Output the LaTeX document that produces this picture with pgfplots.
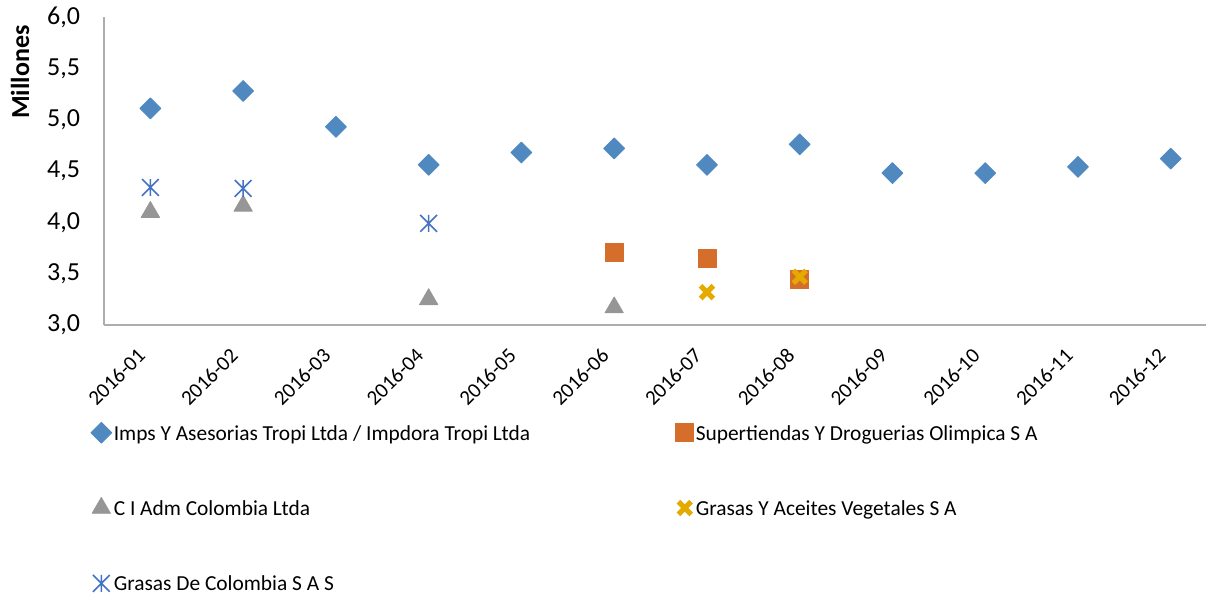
\documentclass[border=0pt]{standalone}
\usepackage{pgfplots}
\pgfplotsset{compat=1.18}
\usepackage{fontspec}
\setmainfont{Carlito}

\definecolor{impblue}{RGB}{80,137,192}
\definecolor{olorange}{RGB}{212,110,42}
\definecolor{cigray}{RGB}{150,150,150}
\definecolor{grasyellow}{RGB}{228,170,0}
\definecolor{gcblue}{RGB}{68,114,196}
\definecolor{axgray}{RGB}{173,173,173}

% Excel-style star: vertical bar plus an X
\pgfdeclareplotmark{xlstar}{%
  \pgfpathmoveto{\pgfqpoint{0pt}{\pgfplotmarksize}}%
  \pgfpathlineto{\pgfqpoint{0pt}{-\pgfplotmarksize}}%
  \pgfpathmoveto{\pgfqpoint{-\pgfplotmarksize}{-\pgfplotmarksize}}%
  \pgfpathlineto{\pgfqpoint{\pgfplotmarksize}{\pgfplotmarksize}}%
  \pgfpathmoveto{\pgfqpoint{-\pgfplotmarksize}{\pgfplotmarksize}}%
  \pgfpathlineto{\pgfqpoint{\pgfplotmarksize}{-\pgfplotmarksize}}%
  \pgfusepathqstroke}

\begin{document}
\begin{tikzpicture}
\begin{axis}[
    name=ax,
    scale only axis,
    width=551pt, height=154pt,
    xmin=-0.5, xmax=11.38,
    ymin=3, ymax=6,
    ytick={3,3.5,4,4.5,5,5.5,6},
    xtick={0,1,2,3,4,5,6,7,8,9,10,11},
    xticklabels={2016-01,2016-02,2016-03,2016-04,2016-05,2016-06,
                 2016-07,2016-08,2016-09,2016-10,2016-11,2016-12},
    axis x line*=bottom, axis y line*=left,
    axis line style={axgray, line width=0.9pt, -},
    major tick length=0pt,
    tick style={draw=none},
    /pgf/number format/assume math mode=true,
    yticklabel style={/pgf/number format/.cd, fixed, fixed zerofill, precision=1, use comma,
                      /tikz/.cd, font=\fontsize{13}{15}\selectfont, xshift=-8.5pt},
    xticklabel style={xshift=-7pt, yshift=-6pt, rotate=45, anchor=north east,
                      font=\fontsize{10.5}{12.6}\selectfont},
    ylabel={Millones},
    ylabel style={at={(axis description cs:-0.0762,0.821)}, anchor=center,
                  font=\bfseries\fontsize{13}{15}\selectfont},
    legend columns=2,
    legend cell align=left,
    legend style={draw=none, fill=none, at={(axis description cs:-0.0123,-0.308)},
                  anchor=north west, font=\fontsize{10.7}{12.8}\selectfont,
                  row sep=25.2pt, column sep=0pt, inner sep=0pt,
                  nodes={inner xsep=1pt, inner ysep=1pt}},
    legend image code/.code={\draw[#1] plot coordinates {(0pt,0pt)};},
]
\addplot[only marks, mark=square*, mark size=3.7pt,
         mark options={rotate=45, fill=impblue, draw=impblue, line join=round, line width=0.4pt}]
  coordinates {(0,5.11) (1,5.28) (2,4.93) (3,4.56) (4,4.68) (5,4.72)
               (6,4.56) (7,4.76) (8,4.48) (9,4.48) (10,4.54) (11,4.62)};
\addlegendentry{\makebox[280pt][l]{Imps Y Asesorias Tropi Ltda / Impdora Tropi Ltda\strut}}

\addplot[only marks, mark=square*, mark size=4.5pt,
         mark options={fill=olorange, draw=olorange, line join=round, line width=0.4pt}]
  coordinates {(5,3.71) (6,3.65) (7,3.44)};
\addlegendentry{Supertiendas Y Droguerias Olimpica S A\strut}

\addplot[only marks, mark=triangle*, mark size=5.3pt,
         mark options={fill=cigray, draw=cigray, line join=round, line width=0.4pt}]
  coordinates {(0,4.10) (1,4.16) (3,3.25) (5,3.17)};
\addlegendentry{\makebox[280pt][l]{C I Adm Colombia Ltda\strut}}

\addplot[only marks, mark=x, mark size=4.5pt,
         mark options={draw=grasyellow, line width=2.6pt}]
  coordinates {(6,3.32) (7,3.47)};
\addlegendentry{Grasas Y Aceites Vegetales S A\strut}

\addplot[only marks, mark=xlstar, mark size=4.2pt,
         mark options={draw=gcblue, line width=0.8pt}]
  coordinates {(0,4.34) (1,4.33) (3,3.99)};
\addlegendentry{\makebox[280pt][l]{Grasas De Colombia S A S\strut}}
\end{axis}
\pgfresetboundingbox
\path[use as bounding box] (-52pt,-134.5pt) rectangle (551pt,162.5pt);
\end{tikzpicture}
\end{document}
